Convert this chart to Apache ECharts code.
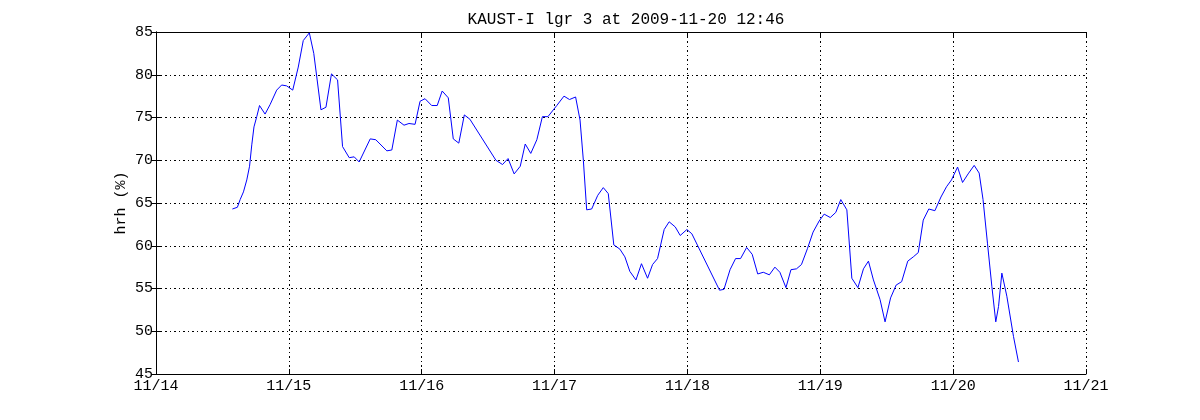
<!DOCTYPE html>
<html><head><meta charset="utf-8">
<script src="https://cdn.jsdelivr.net/npm/echarts@6/dist/echarts.min.js"></script>
<style>html,body{margin:0;padding:0;background:#fff}#c{width:1200px;height:420px}</style>
</head><body><div id="c"></div>
<script>
// hours since 2009-11-14 00:00
const hours = [13.8,14.7,15.2,15.8,16.4,16.9,17.3,17.7,18.2,18.7,19.7,20.6,21.8,22.7,23.6,24.7,25.7,26.6,27.7,28.5,29.8,30.7,31.7,32.8,33.7,34.9,35.8,36.7,38.7,39.7,41.7,42.6,43.6,44.8,45.7,46.8,47.7,48.6,49.8,50.8,51.7,52.8,53.7,54.7,55.7,56.7,61.4,62.6,63.6,64.7,65.8,66.7,67.7,68.8,69.8,70.8,72.4,73.7,74.7,75.8,76.6,77.2,77.8,78.7,79.8,80.8,81.7,82.7,83.8,84.7,85.6,86.7,87.7,88.8,89.7,90.6,91.8,92.7,93.8,94.7,95.9,96.8,101.8,102.6,103.7,104.7,105.6,106.7,107.7,108.7,109.7,110.8,111.8,112.7,113.8,114.7,115.7,116.6,117.7,118.7,119.8,120.7,121.8,122.8,123.7,124.8,125.7,126.8,127.8,128.7,129.6,130.8,131.7,132.7,133.7,134.7,135.8,136.8,137.7,138.6,139.6,140.7,141.8,142.8,143.7,144.8,145.7,146.7,147.8,148.7,149.4,150.2,151.0,151.7,152.2,152.8,153.7,154.9,155.8];
const hrh = [64.3,64.5,65.4,66.3,67.7,69.3,71.8,73.9,75.1,76.4,75.4,76.5,78.2,78.8,78.7,78.2,80.9,84.0,84.9,82.5,75.9,76.2,80.1,79.4,71.6,70.3,70.4,69.8,72.5,72.4,71.1,71.2,74.7,74.1,74.3,74.2,76.9,77.2,76.4,76.4,78.1,77.3,72.5,72.0,75.3,74.8,70.0,69.5,70.2,68.4,69.3,71.9,70.8,72.4,75.1,75.1,76.4,77.5,77.1,77.4,74.7,70.0,64.2,64.3,65.9,66.8,66.1,60.1,59.6,58.7,57.0,56.0,57.9,56.2,57.8,58.5,61.9,62.8,62.2,61.2,61.9,61.4,54.8,54.9,57.2,58.5,58.5,59.8,59.0,56.7,56.9,56.6,57.5,56.9,55.1,57.2,57.3,57.8,59.7,61.6,62.9,63.7,63.3,63.9,65.4,64.2,56.2,55.1,57.3,58.2,56.0,53.7,51.1,53.9,55.4,55.8,58.2,58.7,59.2,63.0,64.3,64.1,65.7,66.9,67.7,69.2,67.4,68.4,69.4,68.5,65.4,60.3,55.2,51.1,52.9,56.8,54.1,49.4,46.4];
const xTickLabels = ['11/14','11/15','11/16','11/17','11/18','11/19','11/20','11/21'];
const titleText = 'KAUST-I lgr 3 at 2009-11-20 12:46';
const yName = 'hrh (%)';

const data = hours.map((h,i)=>[h/24, hrh[i]]);
const font = '"Liberation Mono","DejaVu Sans Mono",monospace';
const grid = {type:[2,3,1,3], color:'#000', width:1};
const chart = echarts.init(document.getElementById('c'), null, {renderer:'canvas'});
chart.setOption({
  animation:false,
  title:{text:titleText,left:621,textAlign:'center',top:7,textStyle:{fontFamily:font,fontSize:16,fontWeight:'normal',color:'#000'}},
  grid:{left:156,right:114,top:32,bottom:46},
  xAxis:[{type:'value',min:0,max:7,interval:1,position:'bottom',
    axisLine:{onZero:false,lineStyle:{color:'#000'}},
    axisTick:{inside:true,length:5,lineStyle:{color:'#000'}},
    axisLabel:{color:'#000',fontFamily:font,fontSize:15,margin:5,formatter:v=>xTickLabels[Math.round(v)]},
    splitLine:{show:true,lineStyle:grid}},
   {type:'value',min:0,max:7,interval:1,position:'top',
    axisLine:{onZero:false,lineStyle:{color:'#000'}},
    axisTick:{inside:true,length:5,lineStyle:{color:'#000'}},
    axisLabel:{show:false},splitLine:{show:false}}],
  yAxis:[{type:'value',min:45,max:85,interval:5,position:'left',
    name:yName,nameLocation:'middle',nameGap:27,nameMoveOverlap:false,nameTextStyle:{fontFamily:font,fontSize:15,color:'#000'},
    axisLine:{show:true,lineStyle:{color:'#000'}},
    axisTick:{show:true,inside:true,length:5,lineStyle:{color:'#000'}},
    axisLabel:{color:'#000',fontFamily:font,fontSize:15,margin:3},
    splitLine:{show:true,lineStyle:grid}},
   {type:'value',min:45,max:85,interval:5,position:'right',
    axisLine:{show:true,lineStyle:{color:'#000'}},
    axisTick:{show:true,inside:true,length:5,lineStyle:{color:'#000'}},
    axisLabel:{show:false},splitLine:{show:false}}],
  series:[{type:'line',data:data,showSymbol:false,symbol:'none',lineStyle:{color:'#0000ff',width:1},z:5}]
});
</script></body></html>
